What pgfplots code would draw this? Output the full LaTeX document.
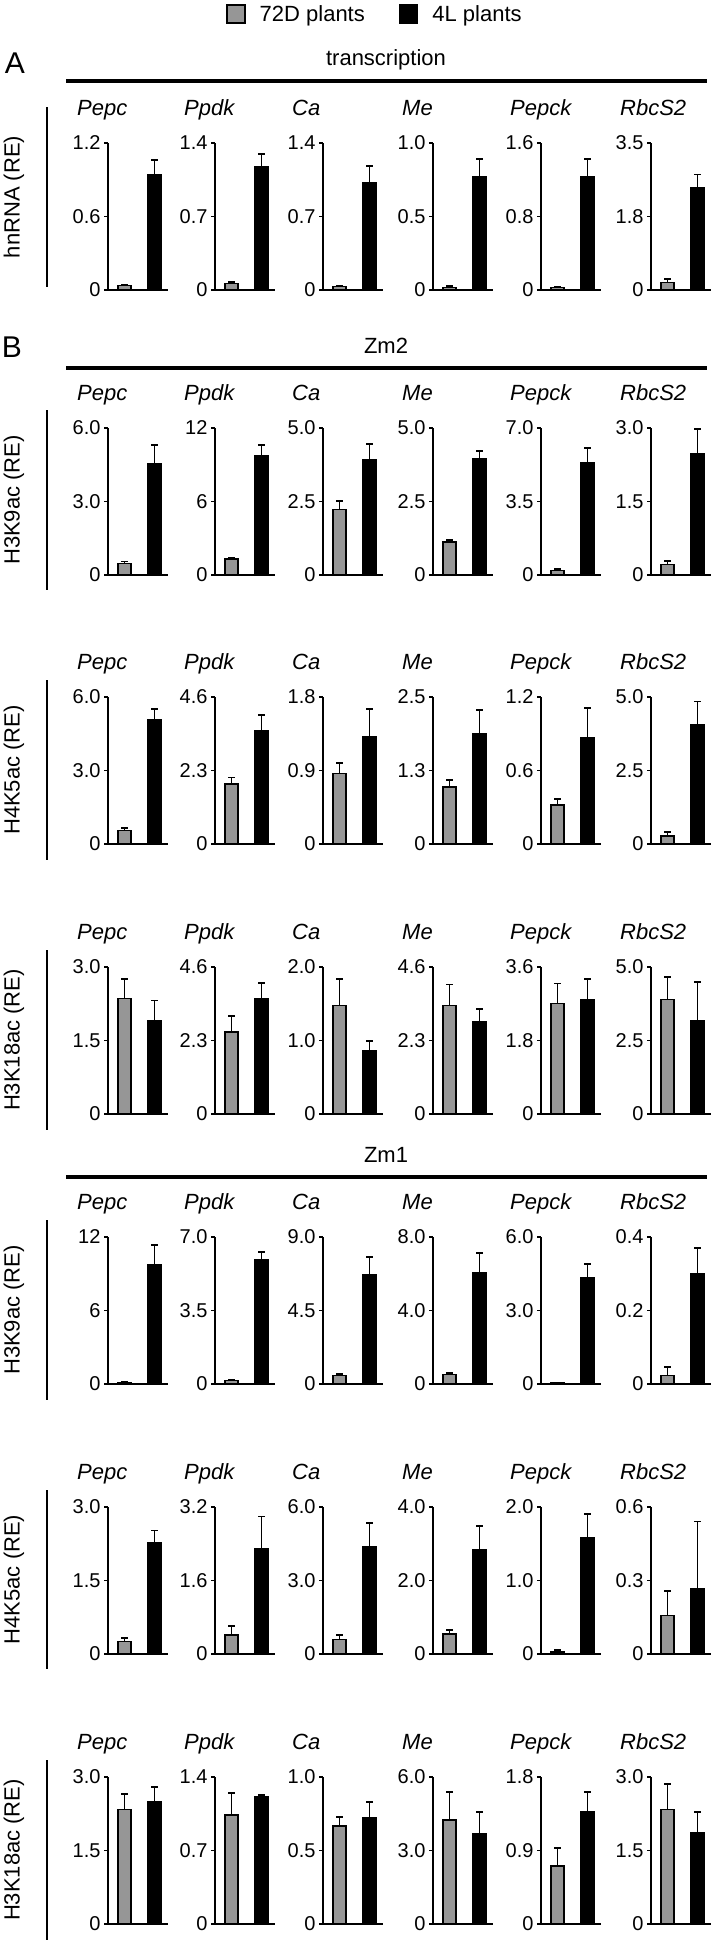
\documentclass[border=0pt]{standalone}
\usepackage{fontspec}
\setmainfont{Liberation Sans}
\usepackage{pgfplots}
\pgfplotsset{compat=1.18}
\definecolor{barg}{RGB}{150,150,150}
\newcommand{\txt}{\fontsize{22}{26}\selectfont}
\pgfplotsset{
  panel/.style={
    scale only axis, width=60pt, height=147pt, anchor=south west,
    xmin=-0.55, xmax=1.45, ymin=0,
    axis x line=bottom, axis y line=left,
    x axis line style={-, line width=2.2pt},
    y axis line style={-, line width=1.6pt},
    xtick=\empty,
    tick align=outside, major tick length=4pt,
    tick style={line width=1.6pt, black},
    ticklabel style={font=\fontsize{20}{22}\selectfont},
    /pgf/number format/assume math mode=true,
    ybar, bar width=13pt, bar shift=0pt,
    clip=false,
  },
  graybar/.style={fill=barg, draw=black, line width=1.5pt,
    error bars/.cd, y dir=plus, y explicit,
    error bar style={line width=1.8pt, black},
    error mark options={rotate=90, line width=1.8pt, mark size=3.5pt, black}},
  blackbar/.style={fill=black, draw=black, line width=1.5pt,
    error bars/.cd, y dir=plus, y explicit,
    error bar style={line width=1.8pt, black},
    error mark options={rotate=90, line width=1.8pt, mark size=3.5pt, black}},
}
% #1 position, #2 ymax, #3 mid tick, #4 mid label, #5 max label,
% #6 gray value, #7 gray error, #8 black value, #9 black error
\newcommand{\panel}[9]{%
\begin{axis}[panel, at={#1}, ymax=#2, ytick={0,#3,#2}, yticklabels={0,#4,#5}]
\addplot[graybar] coordinates {(0,#6) +- (0,#7)};
\addplot[blackbar] coordinates {(1,#8) +- (0,#9)};
\end{axis}}
\newcommand{\genes}[1]{%
  \foreach \gx/\gn in {108/Pepc,215/Ppdk,323/Ca,433/Me,541/Pepck,651/RbcS2}{%
    \node[anchor=base west, inner sep=0pt, font=\txt\itshape] at ({\gx pt-31pt},-#1pt) {\gn};}}
\newcommand{\rowlabel}[3]{%
  \draw[line width=2.2pt] (47pt,-#1pt) -- (47pt,-#2pt);
  \node[rotate=90, font=\txt, inner sep=0pt] at (14pt,{-(#1+#2)/2*1pt}) {#3};}
\begin{document}
\begin{tikzpicture}
\useasboundingbox (0pt,0pt) rectangle (716pt,-1943pt);

% section headings
\node[font=\fontsize{30}{32}\selectfont] at (15pt,-63pt) {A};
\node[font=\txt] at (386pt,-60pt) {transcription};
\draw[line width=3.5pt] (66pt,-81pt) -- (707pt,-81pt);
\node[font=\fontsize{30}{32}\selectfont] at (12pt,-347pt) {B};
\node[font=\txt] at (386pt,-346pt) {Zm2};
\draw[line width=3.5pt] (66pt,-368pt) -- (707pt,-368pt);
\node[font=\txt] at (386pt,-1155pt) {Zm1};
\draw[line width=3.5pt] (66pt,-1177pt) -- (707pt,-1177pt);

% row labels
\rowlabel{107}{287}{hnRNA (RE)}
\rowlabel{410}{590}{H3K9ac (RE)}
\rowlabel{680}{860}{H4K5ac (RE)}
\rowlabel{950}{1130}{H3K18ac (RE)}
\rowlabel{1220}{1400}{H3K9ac (RE)}
\rowlabel{1490}{1669}{H4K5ac (RE)}
\rowlabel{1760}{1940}{H3K18ac (RE)}

% gene names
\genes{115}
\genes{400}
\genes{669}
\genes{939}
\genes{1209}
\genes{1479}
\genes{1749}

% ---- A: transcription (hnRNA)
\begin{axis}[panel, at={(108pt,-290pt)}, ymax=1.2, ytick={0,0.6,1.2}, yticklabels={0,0.6,1.2},
  legend columns=2,
  legend style={at={(axis description cs:1.967,1.878)}, anchor=west, draw=none, fill=none,
    inner sep=0pt, column sep=0pt, font=\txt}]
\addplot[graybar, /pgfplots/legend image code/.code={\draw[fill=barg,draw=black,line width=1.5pt] (0pt,-9pt) rectangle (18pt,9pt);}]
  coordinates {(0,0.035) +- (0,0.01)};
\addlegendentry{\hbox{\hspace*{12pt}72D plants\hspace*{32pt}}}
\addplot[blackbar, /pgfplots/legend image code/.code={\draw[fill=black,draw=black,line width=1.5pt] (0pt,-9pt) rectangle (18pt,9pt);}]
  coordinates {(1,0.942) +- (0,0.117)};
\addlegendentry{\hbox{\hspace*{12pt}4L plants}}
\end{axis}
\panel{(215pt,-290pt)}{1.4}{0.7}{0.7}{1.4}{0.063}{0.01}{1.178}{0.114}
\panel{(323pt,-290pt)}{1.4}{0.7}{0.7}{1.4}{0.032}{0.004}{1.02}{0.158}
\panel{(433pt,-290pt)}{1.0}{0.5}{0.5}{1.0}{0.018}{0.009}{0.769}{0.12}
\panel{(541pt,-290pt)}{1.6}{0.8}{0.8}{1.6}{0.029}{0.005}{1.231}{0.192}
\panel{(651pt,-290pt)}{3.5}{1.75}{1.8}{3.5}{0.174}{0.079}{2.439}{0.309}

% ---- B: Zm2 H3K9ac
\panel{(108pt,-575pt)}{6}{3}{3.0}{6.0}{0.474}{0.081}{4.537}{0.759}
\panel{(215pt,-575pt)}{12}{6}{6}{12}{1.30}{0.11}{9.75}{0.84}
\panel{(323pt,-575pt)}{5}{2.5}{2.5}{5.0}{2.235}{0.282}{3.93}{0.52}
\panel{(433pt,-575pt)}{5}{2.5}{2.5}{5.0}{1.129}{0.056}{3.96}{0.25}
\panel{(541pt,-575pt)}{7}{3.5}{3.5}{7.0}{0.205}{0.079}{5.34}{0.71}
\panel{(651pt,-575pt)}{3}{1.5}{1.5}{3.0}{0.217}{0.061}{2.465}{0.521}

% ---- Zm2 H4K5ac
\panel{(108pt,-844pt)}{6}{3}{3.0}{6.0}{0.543}{0.122}{5.09}{0.41}
\panel{(215pt,-844pt)}{4.6}{2.3}{2.3}{4.6}{1.873}{0.207}{3.549}{0.478}
\panel{(323pt,-844pt)}{1.8}{0.9}{0.9}{1.8}{0.863}{0.13}{1.319}{0.33}
\panel{(433pt,-844pt)}{2.5}{1.25}{1.3}{2.5}{0.973}{0.113}{1.867}{0.407}
\panel{(541pt,-844pt)}{1.2}{0.6}{0.6}{1.2}{0.318}{0.049}{0.866}{0.244}
\panel{(651pt,-844pt)}{5}{2.5}{2.5}{5.0}{0.27}{0.14}{4.06}{0.79}

% ---- Zm2 H3K18ac
\panel{(108pt,-1114pt)}{3}{1.5}{1.5}{3.0}{2.357}{0.406}{1.91}{0.406}
\panel{(215pt,-1114pt)}{4.6}{2.3}{2.3}{4.6}{2.565}{0.498}{3.614}{0.486}
\panel{(323pt,-1114pt)}{2}{1}{1.0}{2.0}{1.476}{0.361}{0.867}{0.126}
\panel{(433pt,-1114pt)}{4.6}{2.3}{2.3}{4.6}{3.395}{0.655}{2.887}{0.403}
\panel{(541pt,-1114pt)}{3.6}{1.8}{1.8}{3.6}{2.706}{0.488}{2.804}{0.503}
\panel{(651pt,-1114pt)}{5}{2.5}{2.5}{5.0}{3.894}{0.756}{3.18}{1.31}

% ---- Zm1 H3K9ac
\panel{(108pt,-1384pt)}{12}{6}{6}{12}{0.135}{0}{9.70}{1.62}
\panel{(215pt,-1384pt)}{7}{3.5}{3.5}{7.0}{0.174}{0}{5.894}{0.396}
\panel{(323pt,-1384pt)}{9}{4.5}{4.5}{9.0}{0.528}{0.062}{6.664}{1.096}
\panel{(433pt,-1384pt)}{8}{4}{4.0}{8.0}{0.506}{0.072}{6.05}{1.08}
\panel{(541pt,-1384pt)}{6}{3}{3.0}{6.0}{0.04}{0}{4.32}{0.57}
\panel{(651pt,-1384pt)}{0.4}{0.2}{0.2}{0.4}{0.0226}{0.0244}{0.3007}{0.069}

% ---- Zm1 H4K5ac
\panel{(108pt,-1654pt)}{3}{1.5}{1.5}{3.0}{0.258}{0.061}{2.27}{0.25}
\panel{(215pt,-1654pt)}{3.2}{1.6}{1.6}{3.2}{0.414}{0.188}{2.30}{0.695}
\panel{(323pt,-1654pt)}{6}{3}{3.0}{6.0}{0.585}{0.192}{4.36}{0.98}
\panel{(433pt,-1654pt)}{4}{2}{2.0}{4.0}{0.545}{0.118}{2.84}{0.64}
\panel{(541pt,-1654pt)}{2}{1}{1.0}{2.0}{0.03}{0.02}{1.58}{0.32}
\panel{(651pt,-1654pt)}{0.6}{0.3}{0.3}{0.6}{0.157}{0.099}{0.266}{0.275}

% ---- Zm1 H3K18ac
\panel{(108pt,-1924pt)}{3}{1.5}{1.5}{3.0}{2.336}{0.325}{2.492}{0.305}
\panel{(215pt,-1924pt)}{1.4}{0.7}{0.7}{1.4}{1.037}{0.211}{1.21}{0.016}
\panel{(323pt,-1924pt)}{1}{0.5}{0.5}{1.0}{0.668}{0.061}{0.722}{0.106}
\panel{(433pt,-1924pt)}{6}{3}{3.0}{6.0}{4.24}{1.15}{3.67}{0.91}
\panel{(541pt,-1924pt)}{1.8}{0.9}{0.9}{1.8}{0.711}{0.224}{1.373}{0.244}
\panel{(651pt,-1924pt)}{3}{1.5}{1.5}{3.0}{2.336}{0.515}{1.862}{0.427}
\end{tikzpicture}
\end{document}
